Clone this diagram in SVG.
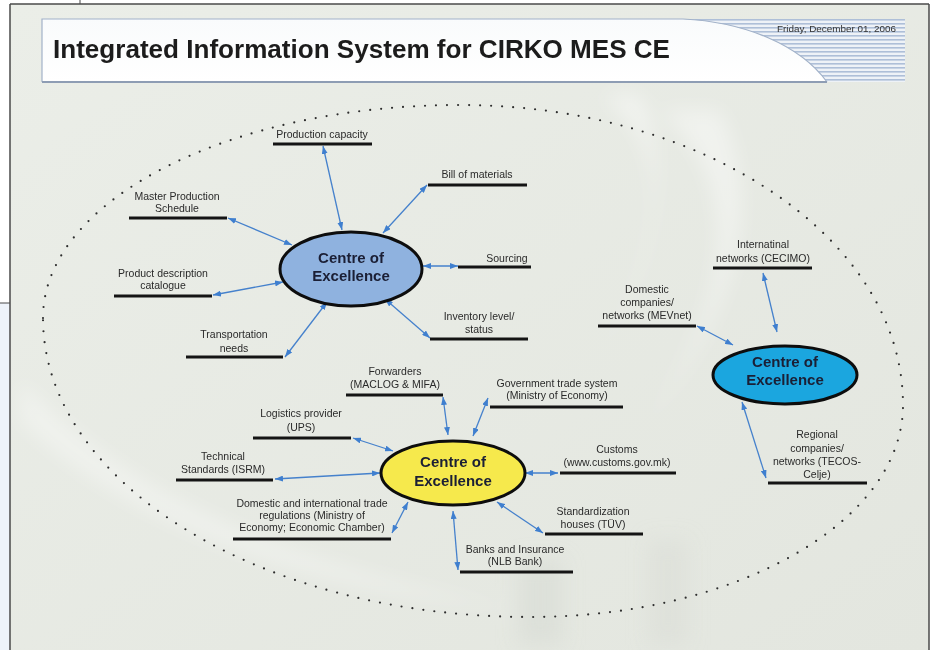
<svg xmlns="http://www.w3.org/2000/svg" width="934" height="650" viewBox="0 0 934 650">
<defs>
<style>
.lbl{font-family:"Liberation Sans",Arial,sans-serif;font-size:10.5px;fill:#2a2a2a;text-anchor:middle}
.ul{stroke:#141414;stroke-width:3}
.cn{stroke:#4581cc;stroke-width:1.3;fill:none;marker-start:url(#ah);marker-end:url(#ah)}
.ce{stroke:#0d0d0d;stroke-width:3}
.ct{font-family:"Liberation Sans",Arial,sans-serif;font-size:15px;font-weight:bold;fill:#1b1f35;text-anchor:middle}
</style>
<marker id="ah" viewBox="0 0 8 6" refX="8" refY="3" markerWidth="8" markerHeight="6" markerUnits="userSpaceOnUse" orient="auto-start-reverse">
<path d="M0,0 L8,3 L0,6 z" fill="#3f7fcf"/>
</marker>
<pattern id="stripes" x="0" y="19" width="8" height="4" patternUnits="userSpaceOnUse">
<rect width="8" height="4" fill="#eef2f7"/>
<rect y="0" width="8" height="1.6" fill="#aebfd8"/>
</pattern>
<linearGradient id="bannerG" x1="0" y1="0" x2="0" y2="1">
<stop offset="0" stop-color="#f9fbfc"/>
<stop offset="1" stop-color="#ffffff"/>
</linearGradient>
<linearGradient id="bgG" x1="0" y1="0" x2="1" y2="1">
<stop offset="0" stop-color="#ebeee8"/>
<stop offset="1" stop-color="#e3e6df"/>
</linearGradient>
<filter id="soft" x="-20%" y="-20%" width="140%" height="140%"><feGaussianBlur stdDeviation="10"/></filter>
</defs>

<!-- page frame -->
<rect x="0" y="0" width="934" height="650" fill="#ffffff"/>
<rect x="0" y="303" width="10" height="347" fill="#eef3fa"/>
<rect x="10" y="4" width="919" height="646" fill="url(#bgG)"/>
<g filter="url(#soft)">
<path d="M600,95 C700,160 640,300 560,420 C620,330 690,220 640,95 Z" fill="#ffffff" opacity="0.45"/>
<path d="M660,110 C760,200 720,330 620,460 C700,360 780,240 720,110 Z" fill="#ffffff" opacity="0.4"/>
<path d="M20,420 C120,520 300,590 520,610 C320,570 140,510 20,380 Z" fill="#ffffff" opacity="0.35"/>
<rect x="518" y="560" width="45" height="85" fill="#d6dad1" opacity="0.5"/>
<rect x="648" y="540" width="40" height="105" fill="#d6dad1" opacity="0.4"/>
</g>
<line x1="10" y1="4" x2="929" y2="4" stroke="#4a4a4a" stroke-width="1.5"/>
<line x1="10" y1="4" x2="10" y2="650" stroke="#4a4a4a" stroke-width="1.5"/>
<line x1="929" y1="4" x2="929" y2="650" stroke="#4a4a4a" stroke-width="1.5"/>
<line x1="80" y1="0" x2="80" y2="4" stroke="#4a4a4a" stroke-width="1"/>
<line x1="0" y1="303" x2="10" y2="303" stroke="#4a4a4a" stroke-width="1"/>

<!-- banner -->
<g id="banner">
<rect x="683" y="19" width="222" height="63" fill="url(#stripes)"/>
<path d="M42,19 H683 C745,22 800,45 827,82 H42 Z" fill="url(#bannerG)"/>
<path d="M42,82 V19 H683 C745,22 800,45 827,82" fill="none" stroke="#a2b2c9" stroke-width="1.2"/>
<line x1="42" y1="82" x2="827" y2="82" stroke="#8e9db4" stroke-width="2"/>
<text x="53" y="58" font-family="'Liberation Sans',Arial,sans-serif" font-size="25" font-weight="bold" fill="#1c1c1c" textLength="617" lengthAdjust="spacingAndGlyphs">Integrated Information System for CIRKO MES CE</text>
<text x="777" y="32" font-family="'Liberation Sans',Arial,sans-serif" font-size="9.5" fill="#333333" textLength="119" lengthAdjust="spacingAndGlyphs">Friday, December 01, 2006</text>
</g>

<!-- dotted boundary -->
<path id="boundary" d="M43,318 C43,200 230,105 460,105 C705,105 903,239 903,405 C903,522 736,617 530,617 C261,617 43,483 43,318 Z" fill="none" stroke="#2e2e2e" stroke-width="2.2" stroke-linecap="round" stroke-dasharray="0 11"/>

<!-- connectors -->
<g id="connectors">
<line class="cn" x1="323" y1="146" x2="342" y2="230"/>
<line class="cn" x1="427" y1="185" x2="383" y2="233"/>
<line class="cn" x1="228" y1="218" x2="292" y2="245"/>
<line class="cn" x1="423" y1="266" x2="458" y2="266"/>
<line class="cn" x1="213" y1="295" x2="283" y2="282"/>
<line class="cn" x1="385" y1="299" x2="430" y2="338"/>
<line class="cn" x1="285" y1="357" x2="327" y2="302"/>

<line class="cn" x1="443" y1="397" x2="448" y2="435"/>
<line class="cn" x1="488" y1="398" x2="473" y2="436"/>
<line class="cn" x1="353" y1="438" x2="393" y2="451"/>
<line class="cn" x1="275" y1="479" x2="380" y2="473"/>
<line class="cn" x1="525" y1="473" x2="558" y2="473"/>
<line class="cn" x1="392" y1="533" x2="408" y2="502"/>
<line class="cn" x1="497" y1="502" x2="543" y2="533"/>
<line class="cn" x1="453" y1="511" x2="458" y2="570"/>

<line class="cn" x1="763" y1="273" x2="777" y2="332"/>
<line class="cn" x1="697" y1="326" x2="733" y2="345"/>
<line class="cn" x1="742" y1="402" x2="766" y2="478"/>
</g>

<!-- centre nodes -->
<g id="coe-blue">
<ellipse class="ce" cx="351" cy="269" rx="71" ry="37" fill="#8fb2df"/>
<text class="ct" x="351" y="263">Centre of</text>
<text class="ct" x="351" y="281">Excellence</text>
</g>
<g id="coe-yellow">
<ellipse class="ce" cx="453" cy="473" rx="72" ry="32" fill="#f6e94c"/>
<text class="ct" x="453" y="467">Centre of</text>
<text class="ct" x="453" y="486">Excellence</text>
</g>
<g id="coe-cyan">
<ellipse class="ce" cx="785" cy="375" rx="72" ry="29" fill="#1ba6df"/>
<text class="ct" x="785" y="367">Centre of</text>
<text class="ct" x="785" y="385">Excellence</text>
</g>

<!-- label nodes (blue) -->
<g id="n-production-capacity">
<text class="lbl" x="322" y="138">Production capacity</text>
<line class="ul" x1="273" y1="144" x2="372" y2="144"/>
</g>
<g id="n-bill-of-materials">
<text class="lbl" x="477" y="178">Bill of materials</text>
<line class="ul" x1="428" y1="185" x2="527" y2="185"/>
</g>
<g id="n-mps">
<text class="lbl" x="177" y="200">Master Production</text>
<text class="lbl" x="177" y="212">Schedule</text>
<line class="ul" x1="129" y1="218" x2="227" y2="218"/>
</g>
<g id="n-sourcing">
<text class="lbl" x="507" y="262">Sourcing</text>
<line class="ul" x1="458" y1="267" x2="531" y2="267"/>
</g>
<g id="n-product-description">
<text class="lbl" x="163" y="277">Product description</text>
<text class="lbl" x="163" y="289">catalogue</text>
<line class="ul" x1="114" y1="296" x2="212" y2="296"/>
</g>
<g id="n-inventory">
<text class="lbl" x="479" y="320">Inventory level/</text>
<text class="lbl" x="479" y="333">status</text>
<line class="ul" x1="430" y1="339" x2="528" y2="339"/>
</g>
<g id="n-transportation">
<text class="lbl" x="234" y="338">Transportation</text>
<text class="lbl" x="234" y="352">needs</text>
<line class="ul" x1="186" y1="357" x2="283" y2="357"/>
</g>

<!-- label nodes (yellow) -->
<g id="n-forwarders">
<text class="lbl" x="395" y="375">Forwarders</text>
<text class="lbl" x="395" y="388">(MACLOG &amp; MIFA)</text>
<line class="ul" x1="346" y1="395" x2="443" y2="395"/>
</g>
<g id="n-government">
<text class="lbl" x="557" y="387">Government trade system</text>
<text class="lbl" x="557" y="399">(Ministry of Economy)</text>
<line class="ul" x1="490" y1="407" x2="623" y2="407"/>
</g>
<g id="n-logistics">
<text class="lbl" x="301" y="417">Logistics provider</text>
<text class="lbl" x="301" y="431">(UPS)</text>
<line class="ul" x1="253" y1="438" x2="351" y2="438"/>
</g>
<g id="n-technical">
<text class="lbl" x="223" y="460">Technical</text>
<text class="lbl" x="223" y="473">Standards (ISRM)</text>
<line class="ul" x1="176" y1="480" x2="273" y2="480"/>
</g>
<g id="n-customs">
<text class="lbl" x="617" y="453">Customs</text>
<text class="lbl" x="617" y="466">(www.customs.gov.mk)</text>
<line class="ul" x1="560" y1="473" x2="676" y2="473"/>
</g>
<g id="n-trade-regulations">
<text class="lbl" x="312" y="507">Domestic and international trade</text>
<text class="lbl" x="312" y="519">regulations (Ministry of</text>
<text class="lbl" x="312" y="531">Economy; Economic Chamber)</text>
<line class="ul" x1="233" y1="539" x2="391" y2="539"/>
</g>
<g id="n-standardization">
<text class="lbl" x="593" y="515">Standardization</text>
<text class="lbl" x="593" y="528">houses (TÜV)</text>
<line class="ul" x1="545" y1="534" x2="643" y2="534"/>
</g>
<g id="n-banks">
<text class="lbl" x="515" y="553">Banks and Insurance</text>
<text class="lbl" x="515" y="565">(NLB Bank)</text>
<line class="ul" x1="460" y1="572" x2="573" y2="572"/>
</g>

<!-- label nodes (cyan) -->
<g id="n-international">
<text class="lbl" x="763" y="248">Internatinal</text>
<text class="lbl" x="763" y="262">networks (CECIMO)</text>
<line class="ul" x1="713" y1="268" x2="812" y2="268"/>
</g>
<g id="n-domestic">
<text class="lbl" x="647" y="293">Domestic</text>
<text class="lbl" x="647" y="306">companies/</text>
<text class="lbl" x="647" y="319">networks (MEVnet)</text>
<line class="ul" x1="598" y1="326" x2="696" y2="326"/>
</g>
<g id="n-regional">
<text class="lbl" x="817" y="438">Regional</text>
<text class="lbl" x="817" y="452">companies/</text>
<text class="lbl" x="817" y="465">networks (TECOS-</text>
<text class="lbl" x="817" y="478">Celje)</text>
<line class="ul" x1="768" y1="483" x2="867" y2="483"/>
</g>
</svg>
